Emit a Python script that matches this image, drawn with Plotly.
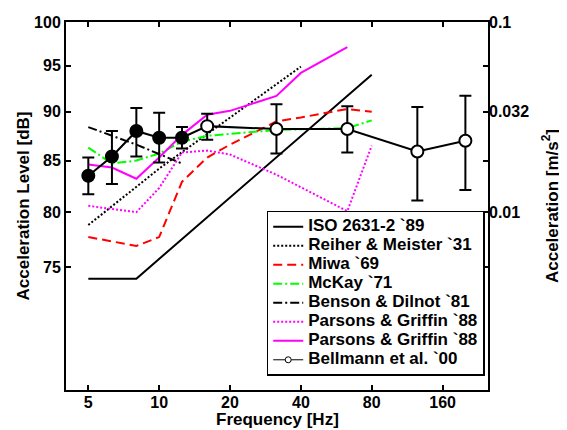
import plotly.graph_objects as go

# ---- data ----
iso_f = [5, 8, 80]
iso_db = [74.0, 74.0, 94.0]

reiher_f = [5, 10, 40]
reiher_db = [78.8, 84.2, 94.9]

miwa_f = [5, 8, 10, 12.5, 16, 20, 31.5, 40, 63, 80]
miwa_db = [77.7, 76.9, 77.7, 82.9, 85.3, 86.6, 89.0, 89.4, 90.3, 90.0]

mckay_f = [5, 6.3, 8, 10, 12.5, 16, 20, 31.5, 63, 80]
mckay_db = [86.3, 84.7, 85.0, 85.7, 86.9, 87.5, 87.7, 88.1, 88.3, 89.1]

benson_f = [5, 8, 12.5]
benson_db = [88.4, 86.6, 84.7]

pg_dot_f = [5, 6.3, 8, 10, 12.5, 16, 20, 31.5, 50, 63, 80]
pg_dot_db = [80.6, 80.3, 80.0, 82.3, 85.8, 86.0, 85.6, 83.6, 81.2, 80.1, 86.5]

pg_sol_f = [5, 6.3, 8, 10, 12.5, 16, 20, 31.5, 40, 63]
pg_sol_db = [84.6, 84.3, 83.2, 85.3, 87.6, 89.7, 90.1, 91.7, 94.2, 97.1]

bell_f = [5, 6.3, 8, 10, 12.5, 16, 31.5, 63, 125, 200]
bell_db = [83.5, 85.4, 88.0, 87.3, 87.3, 88.5, 88.2, 88.2, 85.9, 87.0]
bell_hi = [85.3, 88.0, 90.4, 89.9, 88.4, 89.8, 90.8, 90.6, 90.5, 91.7]
bell_lo = [81.7, 82.7, 85.4, 84.8, 86.2, 87.1, 85.7, 85.8, 81.1, 82.1]

x_ticks = [5, 10, 20, 40, 80, 160]
db_ticks = [75, 80, 85, 90, 95, 100]
acc_ticks = [100, 90, 80]
acc_labels = ["0.1", "0.032", "0.01"]

font_family = "Liberation Sans, Arial, sans-serif"


def leg(name):
    # bigger text than the legend font, so the rows stay tight like the original
    return f"<span style='font-size:17px'>{name}</span>"


fig = go.Figure()

fig.add_trace(go.Scatter(x=iso_f, y=iso_db, mode="lines", name=leg("ISO 2631-2 `89"),
                         line=dict(color="black", width=2)))
fig.add_trace(go.Scatter(x=reiher_f, y=reiher_db, mode="lines", name=leg("Reiher & Meister `31"),
                         line=dict(color="black", width=2, dash="2px,2px")))
fig.add_trace(go.Scatter(x=miwa_f, y=miwa_db, mode="lines", name=leg("Miwa `69"),
                         line=dict(color="#ff0000", width=2, dash="9px,5px")))
fig.add_trace(go.Scatter(x=mckay_f, y=mckay_db, mode="lines", name=leg("McKay `71"),
                         line=dict(color="#00ff00", width=2, dash="9px,3px,2px,3px")))
fig.add_trace(go.Scatter(x=benson_f, y=benson_db, mode="lines", name=leg("Benson & Dilnot `81"),
                         line=dict(color="black", width=2, dash="9px,3px,2px,3px")))
fig.add_trace(go.Scatter(x=pg_dot_f, y=pg_dot_db, mode="lines", name=leg("Parsons & Griffin `88"),
                         line=dict(color="#ff00ff", width=2, dash="2px,2px")))
fig.add_trace(go.Scatter(x=pg_sol_f, y=pg_sol_db, mode="lines", name=leg("Parsons & Griffin `88"),
                         line=dict(color="#ff00ff", width=2)))

# Bellmann: filled below 16 Hz, open from 16 Hz on
fills = ["black" if f < 16 else "white" for f in bell_f]
fig.add_trace(go.Scatter(
    x=bell_f, y=bell_db, mode="lines+markers", showlegend=False,
    line=dict(color="black", width=2),
    marker=dict(size=12, color=fills, line=dict(color="black", width=2)),
    error_y=dict(type="data", symmetric=False,
                 array=[h - m for h, m in zip(bell_hi, bell_db)],
                 arrayminus=[m - l for m, l in zip(bell_db, bell_lo)],
                 color="black", thickness=2, width=6),
))
# legend entry for Bellmann (small open marker)
fig.add_trace(go.Scatter(x=[None], y=[None], mode="lines+markers", name=leg("Bellmann et al. `00"),
                         line=dict(color="black", width=1),
                         marker=dict(size=6, color="white", line=dict(color="black", width=1))))

# invisible trace to activate right axis
fig.add_trace(go.Scatter(x=[None], y=[None], yaxis="y2", showlegend=False, hoverinfo="skip"))

# the page body adds an 8px margin, so the figure is 8px smaller and margins shifted
fig.update_layout(
    width=559, height=422,
    margin=dict(l=58, r=79, t=14, b=40),
    paper_bgcolor="white", plot_bgcolor="white",
    font=dict(family=font_family, size=16, color="black", weight="bold"),
    showlegend=True,
    legend=dict(x=0.4756, y=0.487, xanchor="left", yanchor="top",
                bgcolor="white", bordercolor="black", borderwidth=1.5,
                font=dict(size=11.8, weight="bold"), tracegroupgap=0),
    xaxis=dict(type="log", range=[0.6042, 2.3971], tickvals=x_ticks,
               ticktext=[str(v) for v in x_ticks], automargin=False,
               ticks="inside", ticklen=5, tickcolor="black", tickwidth=1.5,
               ticklabelstandoff=-3,
               showline=True, linecolor="black", linewidth=2, mirror="ticks",
               showgrid=False, zeroline=False),
    yaxis=dict(type="log", range=[1.8125, 2.0], tickvals=db_ticks,
               ticktext=[str(v) for v in db_ticks], automargin=False,
               ticks="inside", ticklen=5, tickcolor="black", tickwidth=1.5,
               showline=True, linecolor="black", linewidth=2, mirror="ticks",
               showgrid=False, zeroline=False,
               title=dict(text="Acceleration Level [dB]", standoff=0, font=dict(size=17))),
    yaxis2=dict(type="log", range=[1.8125, 2.0], overlaying="y", side="right",
                tickvals=acc_ticks, ticktext=acc_labels, ticks="", automargin=False,
                showline=False, showgrid=False, zeroline=False,
                title=dict(text="Acceleration [m/s<sup>2</sup>]", standoff=17, font=dict(size=17))),
    annotations=[dict(text="Frequency [Hz]", x=0.5, y=-0.079, xref="paper", yref="paper",
                      xanchor="center", yanchor="middle", showarrow=False,
                      font=dict(size=17))],
)

fig.write_html("out.html")
